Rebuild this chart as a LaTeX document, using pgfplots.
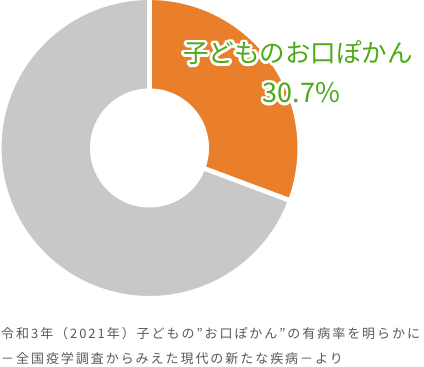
\documentclass[border=0pt]{standalone}
\usepackage{fontspec}
\usepackage{pgfplots}
\usepackage{pgfplotstable}
\pgfplotsset{compat=1.18}

\newfontfamily\jp{Noto Sans CJK JP}
\newfontfamily\jpnote{Noto Sans CJK JP}[LetterSpace=15]

\definecolor{sliceorange}{RGB}{233,127,43}
\definecolor{slicegray}{RGB}{200,200,200}
\definecolor{labelgreen}{RGB}{76,170,25}
\definecolor{notegray}{RGB}{90,88,88}

% share of children with an open-mouth posture (percent)
\pgfplotstableread{
part   share
kuchi  30.7
other  69.3
}\shares
\pgfplotstablegetelem{0}{share}\of\shares \let\shareA\pgfplotsretval
\pgfplotstablegetelem{1}{share}\of\shares \let\shareB\pgfplotsretval

% slices run clockwise from 12 o'clock
\pgfmathsetmacro\angA{90-3.6*\shareA}
\pgfmathsetmacro\angB{\angA-3.6*\shareB}

% donut geometry (pt)
\def\cx{149.5}
\def\cy{219}
\def\Rout{150.3}
\def\Rin{59.5}

% text with a white halo behind it
\newcommand\halotext[4]{%
  \node[text=white,xshift=2.8pt] at (axis cs:#1,#2) {#4};
  \node[text=white,xshift=-2.8pt] at (axis cs:#1,#2) {#4};
  \node[text=white,yshift=2.8pt] at (axis cs:#1,#2) {#4};
  \node[text=white,yshift=-2.8pt] at (axis cs:#1,#2) {#4};
  \node[text=white,xshift=2pt,yshift=2pt] at (axis cs:#1,#2) {#4};
  \node[text=white,xshift=-2pt,yshift=2pt] at (axis cs:#1,#2) {#4};
  \node[text=white,xshift=2pt,yshift=-2pt] at (axis cs:#1,#2) {#4};
  \node[text=white,xshift=-2pt,yshift=-2pt] at (axis cs:#1,#2) {#4};
  \node[text=white,xshift=2.6pt,yshift=1.1pt] at (axis cs:#1,#2) {#4};
  \node[text=white,xshift=-2.6pt,yshift=1.1pt] at (axis cs:#1,#2) {#4};
  \node[text=white,xshift=2.6pt,yshift=-1.1pt] at (axis cs:#1,#2) {#4};
  \node[text=white,xshift=-2.6pt,yshift=-1.1pt] at (axis cs:#1,#2) {#4};
  \node[text=white,xshift=1.1pt,yshift=2.6pt] at (axis cs:#1,#2) {#4};
  \node[text=white,xshift=-1.1pt,yshift=2.6pt] at (axis cs:#1,#2) {#4};
  \node[text=white,xshift=1.1pt,yshift=-2.6pt] at (axis cs:#1,#2) {#4};
  \node[text=white,xshift=-1.1pt,yshift=-2.6pt] at (axis cs:#1,#2) {#4};
  \node[text=#3] at (axis cs:#1,#2) {#4};
}

\begin{document}
\begin{tikzpicture}
\begin{axis}[
  x=1pt, y=1pt,
  xmin=0, xmax=424, ymin=0, ymax=367,
  hide axis, clip=false,
  anchor=south west, at={(0pt,0pt)},
]
% orange slice
\addplot[fill=sliceorange, draw=white, line width=4.6pt, line join=miter,
  domain=\angA:90, samples=120, variable=\t]
  ({\cx+\Rout*cos(\t)}, {\cy+\Rout*sin(\t)}) -- (axis cs:\cx,\cy) -- cycle;
% gray slice
\addplot[fill=slicegray, draw=white, line width=4.6pt, line join=miter,
  domain=\angB:\angA, samples=240, variable=\t]
  ({\cx+\Rout*cos(\t)}, {\cy+\Rout*sin(\t)}) -- (axis cs:\cx,\cy) -- cycle;
% hole
\addplot[fill=white, draw=none, domain=0:360, samples=180, variable=\t]
  ({\cx+\Rin*cos(\t)}, {\cy+\Rin*sin(\t)}) -- cycle;

\halotext{298}{314}{labelgreen}{\jp\fontsize{25.5}{28}\selectfont 子どものお口ぽかん}
\halotext{301.5}{274}{labelgreen}{\jp\fontsize{27}{30}\selectfont \shareA\%}

\node[anchor=west, inner sep=0pt, text=notegray] at (axis cs:1,33)
  {\jpnote\fontsize{13}{15}\selectfont 令和3年（2021年）子どもの”お口ぽかん”の有病率を明らかに};
\node[anchor=west, inner sep=0pt, text=notegray] at (axis cs:1,8)
  {\jpnote\fontsize{13}{15}\selectfont －全国疫学調査からみえた現代の新たな疾病－より};
\end{axis}
\pgfresetboundingbox
\useasboundingbox (0pt,0pt) rectangle (424pt,367pt);
\end{tikzpicture}
\end{document}
